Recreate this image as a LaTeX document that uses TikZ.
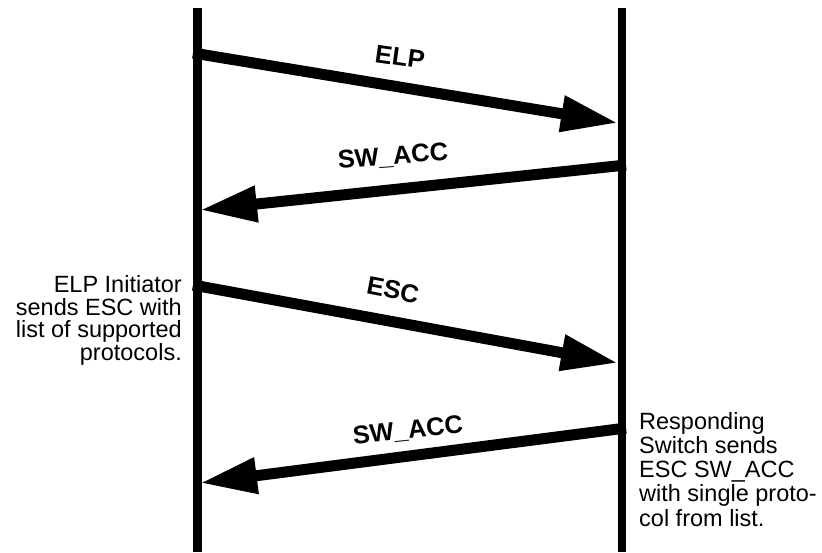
\documentclass[tikz,border=0pt]{standalone}
\usepackage{fontspec}
\setmainfont{Liberation Sans}
\usetikzlibrary{arrows.meta}

\begin{document}
\begin{tikzpicture}
[x=1pt,y=-1pt,%
  life/.style={line width=8.5pt},%
  msg/.style={line width=11pt,-{Triangle[length=57pt,width=34pt]}},%
  lbl/.style={inner sep=0pt,font=\bfseries\fontsize{25.5}{30}\selectfont},%
  note/.style={inner sep=0pt,font=\fontsize{23.5}{22.6}\selectfont}]
\useasboundingbox (0,0) rectangle (822,552);
% lifelines
\coordinate (init-top) at (197.5,8);
\coordinate (init-bot) at (197.5,552);
\coordinate (resp-top) at (622,8);
\coordinate (resp-bot) at (622,552);
\draw[life] (init-top) -- (init-bot);
\draw[life] (resp-top) -- (resp-bot);
% message ends
\coordinate (elp-a) at (193,53);
\coordinate (elp-b) at (618,123);
\coordinate (acc1-a) at (626,165);
\coordinate (acc1-b) at (200,210);
\coordinate (esc-a) at (193,285);
\coordinate (esc-b) at (618,363);
\coordinate (acc2-a) at (626,428);
\coordinate (acc2-b) at (200,483);
\draw[msg] (elp-a) -- (elp-b);
\draw[msg] (acc1-a) -- (acc1-b);
\draw[msg] (esc-a) -- (esc-b);
\draw[msg] (acc2-a) -- (acc2-b);
% labels
\node[lbl,rotate=-8] (elp) at (400,57) {ELP};
\node[lbl,rotate=4.5] (acc1) at (393,157) {SW\_ACC};
\node[lbl,rotate=-11] (esc) at (393,290) {ESC};
\node[lbl,rotate=6] (acc2) at (408,431) {SW\_ACC};
% notes
\node[note,align=right,anchor=north east] (initnote) at (182,275.5)
  {ELP Initiator\\sends ESC with\\list of supported\\protocols.};
\node[note,align=left,anchor=north west,font=\fontsize{23.5}{24.2}\selectfont] (respnote) at (639,412)
  {Responding\\Switch sends\\ESC SW\_ACC\\with single proto-\\col from list.};
\end{tikzpicture}
\end{document}
